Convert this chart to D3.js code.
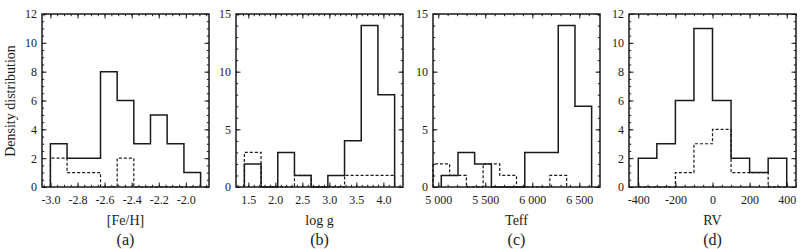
<!DOCTYPE html>
<html>
<head>
<meta charset="utf-8">
<script src="https://cdn.jsdelivr.net/npm/d3@7/dist/d3.min.js"></script>
<style>
  html, body { margin: 0; padding: 0; background: #fff; }
  svg { display: block; }
  text { font-family: "Liberation Serif", "DejaVu Serif", serif; fill: #1a1a1a; }
</style>
</head>
<body>
<svg id="chart" width="800" height="249"></svg>
<script>
// ---------- DATA ----------
// Panel (a) [Fe/H]
const feEdges   = [-3.0, -2.877, -2.754, -2.630, -2.507, -2.384, -2.261, -2.138, -2.014, -1.891];
const feSolid   = [3, 2, 2, 8, 6, 3, 5, 3, 1];
const feDashEdges = [-3.0, -2.877, -2.754, -2.630, -2.507, -2.384, -2.261, -2.138, -2.014, -1.891];
const feDashed  = [2, 1, 1, 0, 2, 0, 0, 0, 0];
const feDomain  = [-3.062, -1.829];
const feTicks   = [-3.0, -2.8, -2.6, -2.4, -2.2, -2.0];

// Panel (b) log g
const lgEdges   = [1.427, 1.736, 2.045, 2.354, 2.663, 2.972, 3.281, 3.590, 3.899, 4.208];
const lgSolid   = [2, 0, 3, 1, 0, 1, 4, 14, 8];
const lgDashEdges = [1.427, 1.736, 2.045, 2.354, 2.663, 2.972, 3.281, 3.590, 3.899, 4.208];
const lgDashed  = [3, 0, 0, 1, 0, 0, 1, 1, 1];
const lgDomain  = [1.272, 4.363];
const lgTicks   = [1.5, 2.0, 2.5, 3.0, 3.5, 4.0];

// Panel (c) Teff
const teEdges   = [5032, 5210, 5387, 5565, 5743, 5920, 6098, 6276, 6454, 6631];
const teSolid   = [1, 3, 2, 0, 0, 3, 3, 14, 7];
const teDashEdges = [4944, 5121, 5299, 5477, 5654, 5832, 6010, 6187, 6365];
const teDashed  = [2, 1, 0, 2, 1, 0, 0, 1];
const teDomain  = [4944, 6720];
const teTicks   = [5000, 5500, 6000, 6500];

// Panel (d) RV
const rvEdges   = [-400, -300, -200, -100, 0, 100, 200, 300, 400];
const rvSolid   = [2, 3, 6, 11, 6, 2, 1, 2];
const rvDashEdges = [-400, -300, -200, -100, 0, 100, 200, 300, 400];
const rvDashed  = [0, 0, 1, 3, 4, 1, 1, 0];
const rvDomain  = [-450, 450];
const rvTicks   = [-400, -200, 0, 200, 400];

const xTitles = ["[Fe/H]", "log g", "Teff", "RV"];
const panelLabels = ["(a)", "(b)", "(c)", "(d)"];
const yLabel = "Density distribution";

// ---------- LAYOUT ----------
const svg = d3.select("#chart");
const plotTop = 14, plotBottom = 187;
const ink = "#1a1a1a";
const serif = '"Liberation Serif", "DejaVu Serif", serif';

const hy = s => s.replace(/\u2212/g, "-");
const fmt1 = v => hy(d3.format(".1f")(v));
const fmtT = v => d3.format(",")(v).replace(",", " ");
const fmtI = v => hy(d3.format("d")(v));

const panels = [
  {x0: 42,  x1: 209, edges: feEdges, solid: feSolid, dEdges: feDashEdges, dashed: feDashed, domain: feDomain,
   ticks: feTicks, minorStep: 0.05, fmt: fmt1, yMax: 12, yTicks: [0,2,4,6,8,10,12], yMinor: 0.5},
  {x0: 236, x1: 403, edges: lgEdges, solid: lgSolid, dEdges: lgDashEdges, dashed: lgDashed, domain: lgDomain,
   ticks: lgTicks, minorStep: 0.1, fmt: fmt1, yMax: 15, yTicks: [0,5,10,15], yMinor: 1},
  {x0: 433, x1: 600, edges: teEdges, solid: teSolid, dEdges: teDashEdges, dashed: teDashed, domain: teDomain,
   ticks: teTicks, minorStep: 100, fmt: fmtT, yMax: 15, yTicks: [0,5,10,15], yMinor: 1},
  {x0: 629, x1: 796, edges: rvEdges, solid: rvSolid, dEdges: rvDashEdges, dashed: rvDashed, domain: rvDomain,
   ticks: rvTicks, minorStep: 50, fmt: fmtI, yMax: 12, yTicks: [0,2,4,6,8,10,12], yMinor: 0.5}
];

function minorVals(domain, step) {
  const out = [];
  const s = Math.ceil(domain[0] / step - 1e-9), e = Math.floor(domain[1] / step + 1e-9);
  for (let i = s; i <= e; i++) out.push(+(i * step).toFixed(6));
  return out;
}

function stepPoints(edges, counts) {
  const pts = [[edges[0], 0]];
  counts.forEach((c, i) => { pts.push([edges[i], c]); pts.push([edges[i + 1], c]); });
  pts.push([edges[counts.length], 0]);
  return pts;
}

panels.forEach((p, idx) => {
  const x = d3.scaleLinear().domain(p.domain).range([p.x0, p.x1]);
  const y = d3.scaleLinear().domain([0, p.yMax]).range([plotBottom, plotTop]);
  const g = svg.append("g");

  const line = d3.line().x(d => x(d[0])).y(d => y(d[1]));

  g.append("path").attr("d", line(stepPoints(p.dEdges, p.dashed)))
    .attr("fill", "none").attr("stroke", ink).attr("stroke-width", 1.2)
    .attr("stroke-dasharray", "3,2");
  g.append("path").attr("d", line(stepPoints(p.edges, p.solid)))
    .attr("fill", "none").attr("stroke", ink).attr("stroke-width", 1.5);

  const xMin = minorVals(p.domain, p.minorStep);
  const yMin = minorVals([0, p.yMax], p.yMinor);

  const styleAxis = sel => {
    sel.attr("font-family", serif);
    sel.select(".domain").remove();
    sel.selectAll(".tick line").attr("stroke", ink).attr("stroke-width", 1);
    sel.selectAll("text").attr("fill", ink).style("font-size", "12px")
      .style("font-family", serif);
  };

  g.append("g").attr("transform", `translate(0,${plotBottom})`)
    .call(d3.axisBottom(x).tickValues(p.ticks).tickSize(-4.5).tickPadding(8).tickFormat(p.fmt))
    .call(styleAxis);
  g.append("g").attr("transform", `translate(0,${plotBottom})`)
    .call(d3.axisBottom(x).tickValues(xMin).tickSize(-2.2).tickFormat(""))
    .call(styleAxis);
  g.append("g").attr("transform", `translate(0,${plotTop})`)
    .call(d3.axisTop(x).tickValues(p.ticks).tickSize(-4.5).tickFormat(""))
    .call(styleAxis);
  g.append("g").attr("transform", `translate(0,${plotTop})`)
    .call(d3.axisTop(x).tickValues(xMin).tickSize(-2.2).tickFormat(""))
    .call(styleAxis);
  g.append("g").attr("transform", `translate(${p.x0},0)`)
    .call(d3.axisLeft(y).tickValues(p.yTicks).tickSize(-4.5).tickPadding(5).tickFormat(d3.format("d")))
    .call(styleAxis);
  g.append("g").attr("transform", `translate(${p.x0},0)`)
    .call(d3.axisLeft(y).tickValues(yMin).tickSize(-2.2).tickFormat(""))
    .call(styleAxis);
  g.append("g").attr("transform", `translate(${p.x1},0)`)
    .call(d3.axisRight(y).tickValues(p.yTicks).tickSize(-4.5).tickFormat(""))
    .call(styleAxis);
  g.append("g").attr("transform", `translate(${p.x1},0)`)
    .call(d3.axisRight(y).tickValues(yMin).tickSize(-2.2).tickFormat(""))
    .call(styleAxis);

  g.append("rect").attr("x", p.x0).attr("y", plotTop)
    .attr("width", p.x1 - p.x0).attr("height", plotBottom - plotTop)
    .attr("fill", "none").attr("stroke", ink).attr("stroke-width", 1.5);

  const cx = (p.x0 + p.x1) / 2;
  g.append("text").attr("x", cx).attr("y", 225).attr("text-anchor", "middle")
    .style("font-size", "14px").text(xTitles[idx]);
  g.append("text").attr("x", cx).attr("y", 245).attr("text-anchor", "middle")
    .style("font-size", "16px").text(panelLabels[idx]);
});

svg.append("text").attr("transform", "translate(15,101) rotate(-90)")
  .attr("text-anchor", "middle").style("font-size", "14px").text(yLabel);
</script>
</body>
</html>
